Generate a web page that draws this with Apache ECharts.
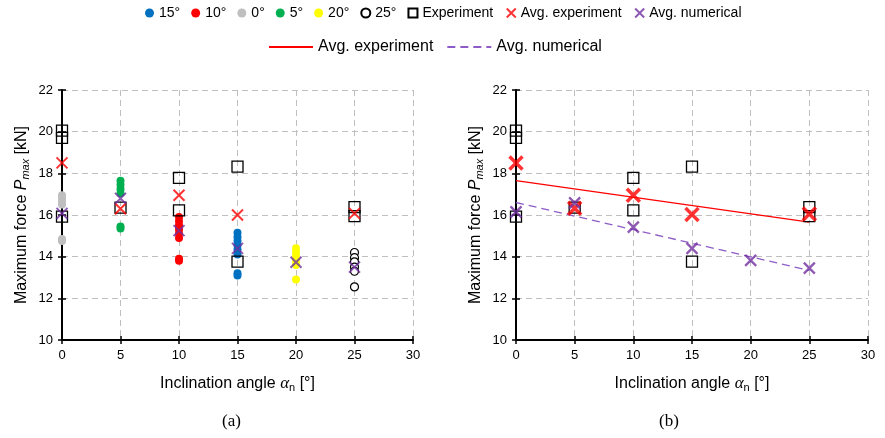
<!DOCTYPE html>
<html><head><meta charset="utf-8">
<script src="https://cdn.jsdelivr.net/npm/echarts@6/dist/echarts.min.js"></script>
<style>html,body{margin:0;padding:0;background:#fff}#c{width:885px;height:438px}</style>
</head><body><div id="c"></div>
<script>
// ---- data ----
const xTicks = [0, 5, 10, 15, 20, 25, 30];
const yTicks = [10, 12, 14, 16, 18, 20, 22];
// individual numerical results (left chart), value per angle group
const num15 = [15.15, 14.95, 14.75, 14.55, 14.35, 14.1, 13.2, 13.1];
const num10 = [15.9, 15.7, 15.5, 15.3, 15.1, 14.9, 13.9, 13.8];
const num0 = [16.95, 16.8, 16.65, 16.5, 14.85, 14.75];
const num5 = [17.65, 17.45, 17.25, 17.05, 15.45, 15.35];
const num20 = [14.4, 14.2, 14.0, 13.8, 13.6, 12.9];
const num25 = [14.2, 13.95, 13.75, 13.5, 13.3, 12.55];
// experiments
const expAngles = [0, 0, 0, 5, 10, 10, 15, 15, 25, 25];
const expValues = [20.05, 19.7, 15.92, 16.35, 17.78, 16.22, 18.32, 13.76, 16.38, 15.95];
// averages
const avgAngles = [0, 5, 10, 15, 20, 25];
const avgExpA = [18.5, 16.3, 16.95, 16.0, null, 16.08];
const avgNumA = [16.08, 16.8, 15.25, 14.4, 13.73, 13.5];
const avgExpB = [18.5, 16.32, 16.95, 16.02, null, 16.05];
const avgNumB = [16.15, 16.58, 15.42, 14.4, 13.82, 13.45];
// trend lines (right chart)
const trendAngles = [0, 25];
const trendExp = [17.65, 15.66];
const trendNum = [16.6, 13.34];

const groupNames = ['15°', '10°', '0°', '5°', '20°', '25°'];
const groupAngles = [15, 10, 0, 5, 20, 25];
const groupVals = [num15, num10, num0, num5, num20, num25];
const groupColors = ['#0070C0', '#FF0000', '#BFBFBF', '#00B050', '#FFFF00', '#FFFFFF'];

const FONT = 'Liberation Sans, Arial, sans-serif';
const crossPath = 'path://M0,0L10,10M10,0L0,10';

function pairs(xs, ys) { const o = []; xs.forEach((x, i) => { if (ys[i] != null) o.push([x, ys[i]]); }); return o; }

const chart = echarts.init(document.getElementById('c'), null, {renderer: 'canvas'});

const grids = [
  {left: 62, right: 472, top: 90, bottom: 98},
  {left: 516, right: 17, top: 90, bottom: 98}
];

const xAxes = [], yAxes = [];
const xName = '{t|Inclination angle }{a|α}{s|n}{t| [°]}';
const yName = '{t|Maximum force }{i|P}{s|max}{t| [kN]}';
const richX = {t: {fontSize: 16, fontFamily: FONT, color: '#000'}, a: {fontSize: 17, fontStyle: 'italic', fontFamily: 'Liberation Serif, serif', color: '#000'}, s: {fontSize: 11, fontFamily: FONT, color: '#000', verticalAlign: 'bottom', padding: [8, 0, 0, 0]}};
const richY = {t: {fontSize: 16, fontFamily: FONT, color: '#000'}, i: {fontSize: 16, fontStyle: 'italic', fontFamily: FONT, color: '#000'}, s: {fontSize: 11, fontStyle: 'italic', fontFamily: FONT, color: '#000', verticalAlign: 'bottom', padding: [8, 0, 0, 0]}};

for (let g = 0; g < 2; g++) {
  xAxes.push({
    gridIndex: g, type: 'value', min: xTicks[0], max: xTicks[xTicks.length - 1], interval: 5,
    name: xName, nameLocation: 'middle', nameGap: 34, nameTextStyle: {rich: richX},
    axisLine: {show: true, lineStyle: {color: '#000', width: 2}},
    axisTick: {show: true, length: 4, lineStyle: {color: '#000', width: 1.5}},
    axisLabel: {color: '#000', fontSize: 13, fontFamily: FONT, margin: 9},
    splitLine: {show: true, lineStyle: {color: '#BFBFBF', type: [6, 4], width: 1}}
  });
  xAxes.push({
    gridIndex: g, type: 'value', min: xTicks[0], max: xTicks[xTicks.length - 1], interval: 5, position: 'bottom',
    axisLine: {show: false}, axisTick: {show: true, inside: true, length: 4, lineStyle: {color: '#000', width: 1.5}},
    axisLabel: {show: false}, splitLine: {show: false}
  });
  yAxes.push({
    gridIndex: g, type: 'value', min: yTicks[0], max: yTicks[yTicks.length - 1], interval: 2,
    name: yName, nameLocation: 'middle', nameGap: 31, nameTextStyle: {rich: richY},
    axisLine: {show: true, lineStyle: {color: '#000', width: 2}},
    axisTick: {show: true, length: 4, lineStyle: {color: '#000', width: 1.5}},
    axisLabel: {color: '#000', fontSize: 13, fontFamily: FONT, margin: 9},
    splitLine: {show: true, lineStyle: {color: '#BFBFBF', type: [6, 4], width: 1}}
  });
  yAxes.push({
    gridIndex: g, type: 'value', min: yTicks[0], max: yTicks[yTicks.length - 1], interval: 2, position: 'left',
    axisLine: {show: false}, axisTick: {show: true, inside: true, length: 4, lineStyle: {color: '#000', width: 1.5}},
    axisLabel: {show: false}, splitLine: {show: false}
  });
}

const series = [];
// left chart groups
groupNames.forEach((n, i) => {
  const open = n === '25°';
  series.push({
    name: n, type: 'scatter', xAxisIndex: 0, yAxisIndex: 0, symbol: 'circle', symbolSize: 8,
    itemStyle: {color: groupColors[i], borderColor: open ? '#000' : groupColors[i], borderWidth: open ? 1.2 : 0, opacity: 1},
    data: groupVals[i].map(v => [groupAngles[i], v]), z: 2
  });
});
for (let g = 0; g < 2; g++) {
  series.push({
    name: 'Experiment', type: 'scatter', xAxisIndex: g * 2, yAxisIndex: g * 2, symbol: 'rect', symbolSize: 11,
    itemStyle: {color: 'rgba(255,255,255,0)', borderColor: '#000', borderWidth: 1.3, opacity: 1},
    data: pairs(expAngles, expValues), z: 3
  });
}
series.push({
  name: 'Avg. experiment', type: 'scatter', xAxisIndex: 0, yAxisIndex: 0, symbol: crossPath, symbolSize: 11,
  itemStyle: {color: 'none', borderColor: '#FF0000', borderWidth: 2}, data: pairs(avgAngles, avgExpA), z: 4
});
series.push({
  name: 'Avg. numerical', type: 'scatter', xAxisIndex: 0, yAxisIndex: 0, symbol: crossPath, symbolSize: 11,
  itemStyle: {color: 'none', borderColor: '#7030A0', borderWidth: 2}, data: pairs(avgAngles, avgNumA), z: 5
});
// right chart
series.push({
  name: 'Avg. experiment line', type: 'line', xAxisIndex: 2, yAxisIndex: 2, symbol: 'none',
  lineStyle: {color: '#FF0000', width: 1.3}, itemStyle: {color: '#FF0000'}, data: pairs(trendAngles, trendExp), z: 3
});
series.push({
  name: 'Avg. numerical line', type: 'line', xAxisIndex: 2, yAxisIndex: 2, symbol: 'none',
  lineStyle: {color: '#8E5CC6', width: 1.3, type: [8, 5]}, itemStyle: {color: '#8E5CC6'}, data: pairs(trendAngles, trendNum), z: 3
});
series.push({
  name: 'Avg. experiment', type: 'scatter', xAxisIndex: 2, yAxisIndex: 2, symbol: crossPath, symbolSize: 13,
  itemStyle: {color: 'none', borderColor: '#FF0000', borderWidth: 3.5}, data: pairs(avgAngles, avgExpB), z: 4
});
series.push({
  name: 'Avg. numerical', type: 'scatter', xAxisIndex: 2, yAxisIndex: 2, symbol: crossPath, symbolSize: 11,
  itemStyle: {color: 'none', borderColor: '#7030A0', borderWidth: 2.3}, data: pairs(avgAngles, avgNumB), z: 5
});

chart.setOption({
  animation: false,
  backgroundColor: '#fff',
  grid: grids,
  xAxis: xAxes,
  yAxis: yAxes,
  legend: [
    {top: 1, left: 140, itemWidth: 9, itemHeight: 9, itemGap: 11, textStyle: {fontSize: 14, fontFamily: FONT, color: '#000'}, selectedMode: false,
     data: groupNames.concat(['Experiment', 'Avg. experiment', 'Avg. numerical'])},
    {top: 34, left: 263, itemWidth: 44, itemHeight: 10, itemGap: 13, textStyle: {fontSize: 16, fontFamily: FONT, color: '#000'}, selectedMode: false,
     itemStyle: {opacity: 0},
     data: ['Avg. experiment line', 'Avg. numerical line'], formatter: n => n.replace(' line', '')}
  ],
  graphic: [
    {type: 'text', left: 222, top: 413, style: {text: '(a)', font: '17px Liberation Serif, Times New Roman, serif', fill: '#000'}},
    {type: 'text', left: 659, top: 413, style: {text: '(b)', font: '17px Liberation Serif, Times New Roman, serif', fill: '#000'}}
  ],
  series: series
});
</script></body></html>
